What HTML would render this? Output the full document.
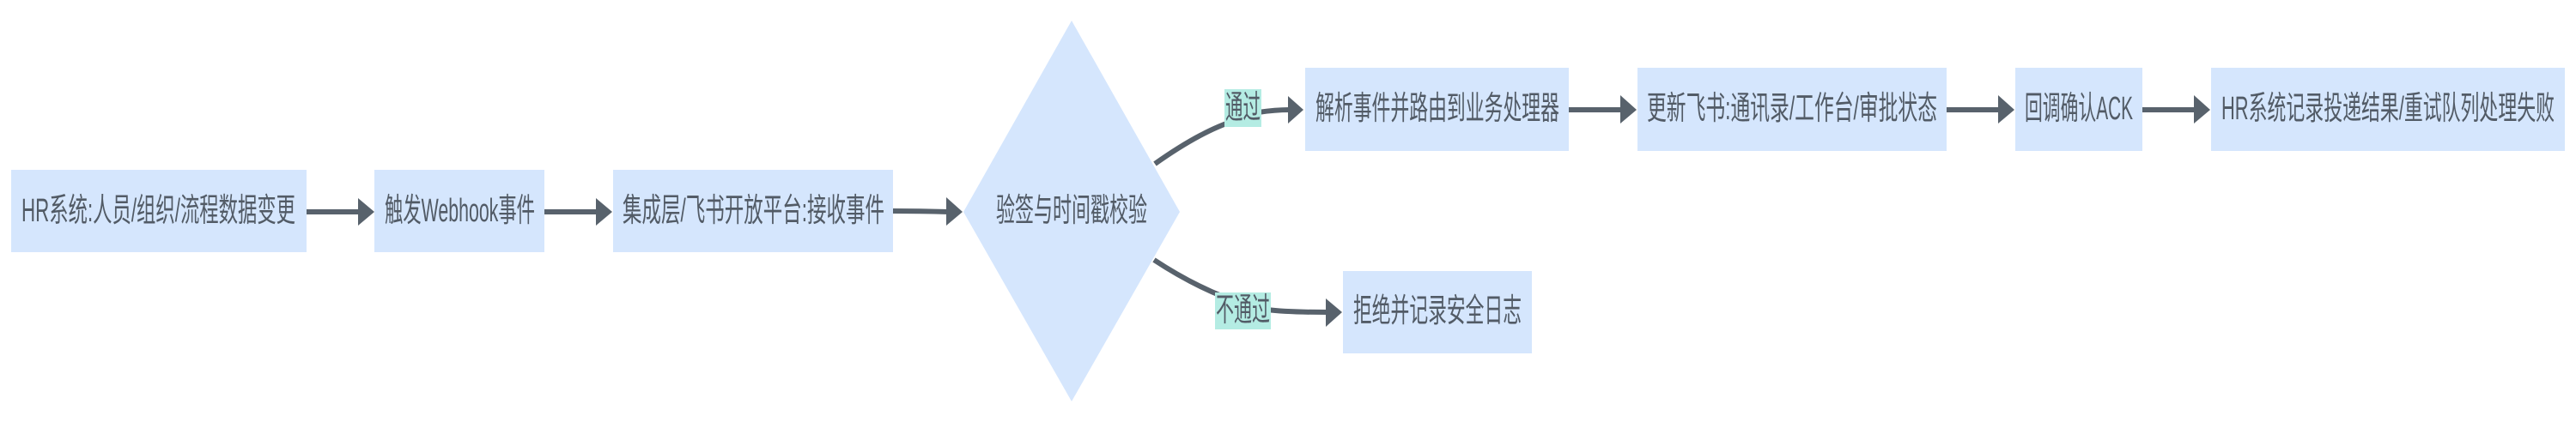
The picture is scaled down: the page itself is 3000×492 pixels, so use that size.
<!DOCTYPE html>
<html>
<head>
<meta charset="utf-8">
<style>
  html, body { margin: 0; padding: 0; background: #ffffff; }
  svg { display: block; }
  text {
    font-family: "Liberation Sans", "Noto Sans CJK SC", sans-serif;
    font-size: 38px;
    fill: #525b66;
    dominant-baseline: central;
    text-anchor: start;
  }
</style>
</head>
<body>
<svg width="3000" height="492" viewBox="0 0 3000 492" xmlns="http://www.w3.org/2000/svg">
  <rect x="0" y="0" width="3000" height="492" fill="#ffffff"/>

  <!-- Nodes -->
  <rect x="13" y="198" width="344" height="96" fill="#d5e6fd"/>
  <rect x="436" y="198" width="198" height="96" fill="#d5e6fd"/>
  <rect x="714" y="198" width="326" height="96" fill="#d5e6fd"/>
  <polygon points="1248,24 1374,247 1248,468 1122,247" fill="#d5e6fd"/>
  <rect x="1520" y="79" width="307" height="97" fill="#d5e6fd"/>
  <rect x="1907" y="79" width="360" height="97" fill="#d5e6fd"/>
  <rect x="2347" y="79" width="148" height="97" fill="#d5e6fd"/>
  <rect x="2575" y="79" width="412" height="97" fill="#d5e6fd"/>
  <rect x="1564" y="316" width="220" height="96" fill="#d5e6fd"/>

  <!-- Connectors -->
  <g stroke="#58626c" stroke-width="6" fill="none">
    <line x1="357" y1="247" x2="420" y2="247"/>
    <line x1="634" y1="247" x2="697" y2="247"/>
    <path d="M1040,246 Q1070,246 1105,247"/>
    <path d="M1345,191 Q1400,152 1440,140"/>
    <path d="M1465,131 Q1485,128 1502,128"/>
    <path d="M1344,303 Q1385,330 1425,346"/>
    <path d="M1475,361 Q1500,364 1547,364"/>
    <line x1="1827" y1="128" x2="1890" y2="128"/>
    <line x1="2267" y1="128" x2="2330" y2="128"/>
    <line x1="2495" y1="128" x2="2558" y2="128"/>
  </g>
  <g fill="#58626c">
    <polygon points="436,247 417,231 417,263"/>
    <polygon points="713,247 694,231 694,263"/>
    <polygon points="1121,247 1102,230 1102,263"/>
    <polygon points="1518,128 1500,112 1500,144"/>
    <polygon points="1563,364 1544,348 1544,381"/>
    <polygon points="1906,128 1887,111 1887,144"/>
    <polygon points="2346,128 2327,111 2327,144"/>
    <polygon points="2574,128 2555,111 2555,144"/>
  </g>

  <!-- Edge labels -->
  <rect x="1426" y="104" width="43" height="44" fill="#b4ece3"/>
  <rect x="1415" y="341" width="65" height="43" fill="#b4ece3"/>
  <text x="1427" y="126" textLength="41" lengthAdjust="spacingAndGlyphs">通过</text>
  <text x="1416" y="362" textLength="63" lengthAdjust="spacingAndGlyphs">不通过</text>

  <!-- Node labels -->
  <text x="25" y="246" textLength="319" lengthAdjust="spacingAndGlyphs">HR系统:人员/组织/流程数据变更</text>
  <text x="448" y="246" textLength="175" lengthAdjust="spacingAndGlyphs">触发Webhook事件</text>
  <text x="725" y="246" textLength="305" lengthAdjust="spacingAndGlyphs">集成层/飞书开放平台:接收事件</text>
  <text x="1160" y="246" textLength="176" lengthAdjust="spacingAndGlyphs">验签与时间戳校验</text>
  <text x="1532" y="127" textLength="284" lengthAdjust="spacingAndGlyphs">解析事件并路由到业务处理器</text>
  <text x="1918" y="127" textLength="338" lengthAdjust="spacingAndGlyphs">更新飞书:通讯录/工作台/审批状态</text>
  <text x="2358" y="127" textLength="126" lengthAdjust="spacingAndGlyphs">回调确认ACK</text>
  <text x="2587" y="127" textLength="388" lengthAdjust="spacingAndGlyphs">HR系统记录投递结果/重试队列处理失败</text>
  <text x="1576" y="363" textLength="196" lengthAdjust="spacingAndGlyphs">拒绝并记录安全日志</text>
</svg>
</body>
</html>
